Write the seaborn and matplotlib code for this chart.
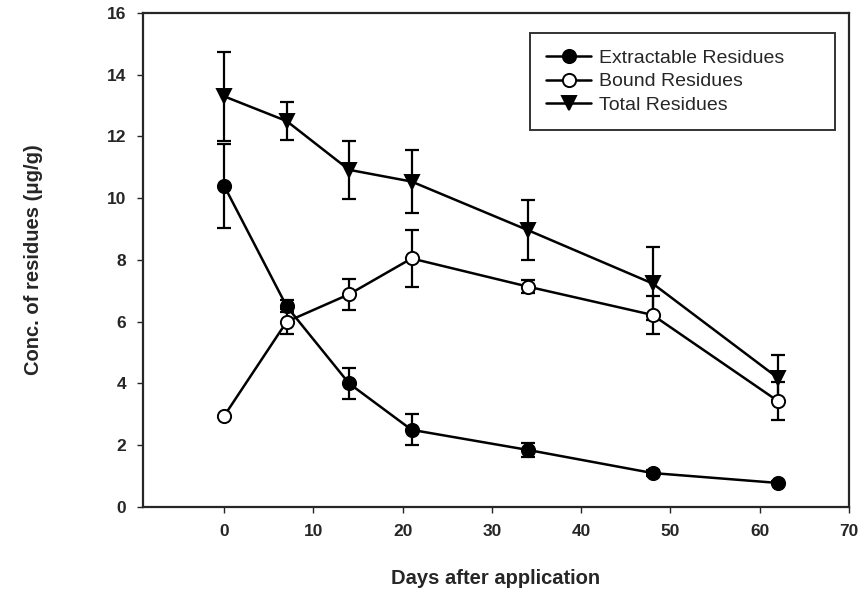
import numpy as np
import pandas as pd
import matplotlib
matplotlib.use("Agg")
import matplotlib.pyplot as plt
import seaborn as sns

# data
days = [0, 7, 14, 21, 34, 48, 62]
extractable = [10.4, 6.5, 4.0, 2.5, 1.85, 1.1, 0.78]
extractable_err = [1.35, 0.2, 0.5, 0.5, 0.22, 0.1, 0.05]
bound = [2.95, 6.0, 6.89, 8.05, 7.14, 6.22, 3.44]
bound_err = [0.0, 0.4, 0.5, 0.92, 0.2, 0.61, 0.62]
total = [13.3, 12.5, 10.92, 10.54, 8.97, 7.24, 4.19]
total_err = [1.45, 0.62, 0.94, 1.03, 0.98, 1.18, 0.73]

sns.set_style("ticks")
plt.rcParams['font.family'] = ['Liberation Sans', 'DejaVu Sans']

fig = plt.figure(figsize=(8.68, 6.01), dpi=100)
ax = fig.add_axes([0.1647, 0.1564, 0.8133, 0.822])

series = [
    ("Extractable Residues", extractable, extractable_err, "o", "black"),
    ("Bound Residues", bound, bound_err, "o", "white"),
    ("Total Residues", total, total_err, "v", "black"),
]

for name, vals, errs, mk, fc in series:
    df = pd.DataFrame({"day": days, "val": vals})
    ax.errorbar(days, vals, yerr=errs, fmt="none", ecolor="black",
                elinewidth=1.6, capsize=5, capthick=1.6, zorder=2)
    sns.lineplot(data=df, x="day", y="val", ax=ax, color="black", linewidth=1.8,
                 marker=mk, markersize=9.5, markerfacecolor=fc,
                 markeredgecolor="black", markeredgewidth=1.4,
                 label=name, zorder=3)

ax.set_xlim(-9.1, 70)
ax.set_ylim(0, 16)
ax.set_xticks(range(0, 71, 10))
ax.set_yticks(range(0, 17, 2))
ax.tick_params(direction="out", length=4, width=1, labelsize=12.5, pad=8)
for lbl in ax.get_xticklabels() + ax.get_yticklabels():
    lbl.set_fontweight("bold")
for s in ax.spines.values():
    s.set_linewidth(1.6)
    s.set_visible(True)

ax.set_xlabel("Days after application", fontsize=14.5, fontweight="bold", labelpad=22)
ax.set_ylabel("Conc. of residues (\u03bcg/g)", fontsize=14.5, fontweight="bold", labelpad=46)

leg = ax.legend(loc="upper left", bbox_to_anchor=(0.548, 0.76, 0.432, 0.2),
                mode="expand", borderaxespad=0, frameon=True,
                fancybox=False, edgecolor="black", fontsize=14,
                handlelength=2.3, handletextpad=0.4, borderpad=0.85, labelspacing=0.3)
leg.get_frame().set_linewidth(1.4)

fig.savefig("out.png", dpi=100)
